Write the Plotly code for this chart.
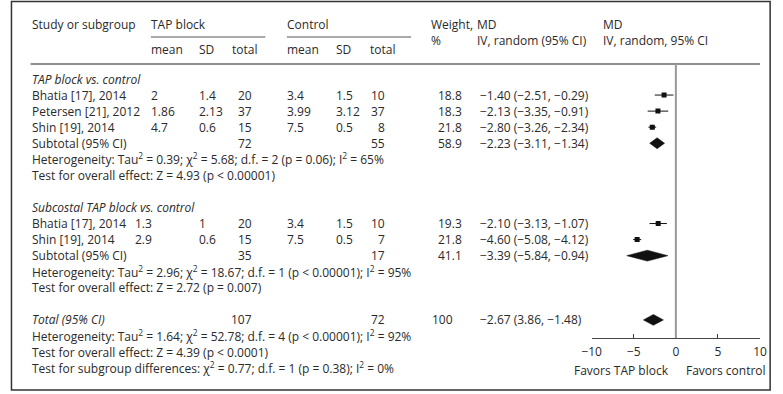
import plotly.graph_objects as go

W, H = 783, 394

# ---------------- data ----------------
studies = ["Bhatia [17], 2014", "Petersen [21], 2012", "Shin [19], 2014",
           "Bhatia [17], 2014", "Shin [19], 2014"]
study_rows = [1, 2, 3, 9, 10]
tap_mean = [2, 1.86, 4.7, 1.3, 2.9]
tap_sd = [1.4, 2.13, 0.6, 1, 0.6]
tap_n = [20, 37, 15, 20, 15]
ctl_mean = [3.4, 3.99, 7.5, 3.4, 7.5]
ctl_sd = [1.5, 3.12, 0.5, 1.5, 0.5]
ctl_n = [10, 37, 8, 10, 7]
weight = [18.8, 18.3, 21.8, 19.3, 21.8]
md = [-1.40, -2.13, -2.80, -2.10, -4.60]
md_lo = [-2.51, -3.35, -3.26, -3.13, -5.08]
md_hi = [-0.29, -0.91, -2.34, -1.07, -4.12]

groups = ["TAP block vs. control", "Subcostal TAP block vs. control"]
group_rows = [0, 8]
sub_rows = [4, 11]
sub_tap_n = [72, 35]
sub_ctl_n = [55, 17]
sub_weight = [58.9, 41.1]
sub_md = [-2.23, -3.39]
sub_lo = [-3.11, -5.84]
sub_hi = [-1.34, -0.94]
het_text = ["Heterogeneity: Tau<sup>2</sup> = 0.39; χ<sup>2</sup> = 5.68; d.f. = 2 (p = 0.06); I<sup>2</sup> = 65%",
            "Heterogeneity: Tau<sup>2</sup> = 2.96; χ<sup>2</sup> = 18.67; d.f. = 1 (p < 0.00001); I<sup>2</sup> = 95%"]
eff_text = ["Test for overall effect: Z = 4.93 (p < 0.00001)",
            "Test for overall effect: Z = 2.72 (p = 0.007)"]

total_row = 15
total_tap_n = 107
total_ctl_n = 72
total_weight = 100
total_md = -2.67
total_lo = -3.86
total_hi = -1.48
total_ci_label = "−2.67 (3.86, −1.48)"
total_notes = ["Heterogeneity: Tau<sup>2</sup> = 1.64; χ<sup>2</sup> = 52.78; d.f. = 4 (p < 0.00001); I<sup>2</sup> = 92%",
               "Test for overall effect: Z = 4.39 (p < 0.0001)",
               "Test for subgroup differences: χ<sup>2</sup> = 0.77; d.f. = 1 (p = 0.38); I<sup>2</sup> = 0%"]

tick_vals = [-10, -5, 0, 5, 10]
favors = ["Favors TAP block", "Favors control"]

# ---------------- layout helpers ----------------
ROW0, DY = 79.0, 16.06
def row_of(py):
    return (py - ROW0) / DY
def px(x):
    return x / W

FONT = "Open Sans"
FS = 12
TXT = "#2a2a2a"

def fmt(v):
    s = f"{v:.2f}".rstrip("0").rstrip(".") if isinstance(v, float) else str(v)
    return s.replace("-", "−")

def ci(m, l, h):
    return f"{m:.2f} ({l:.2f}, {h:.2f})".replace("-", "−")

ann = []
def text(x, row, s, anchor="left"):
    ann.append(dict(x=px(x - 2 if anchor == "left" else x + 2), y=row, xref="paper", yref="y",
                    text=s, showarrow=False, xanchor=anchor, yanchor="middle",
                    font=dict(family=FONT, size=FS, color=TXT)))

# header
hr1, hr2, hr3 = row_of(24), row_of(40), row_of(49)
text(22, hr1, "Study or subgroup")
text(144, hr1, "TAP block")
text(283, hr1, "Control")
for x, s in [(144, "mean"), (193, "SD"), (227, "total"), (283, "mean"), (333, "SD"), (368, "total")]:
    text(x, hr3, s)
text(430, hr1, "Weight,")
text(430, hr2, "%")
text(477, hr1, "MD")
text(477, hr2, "IV, random (95% CI)")
text(606, hr1, "MD")
text(606, hr2, "IV, random, 95% CI")

# groups
for g, r in zip(groups, group_rows):
    text(22, r, f"<i>{g}</i>")
for i, r in enumerate(study_rows):
    tap_x = 144 if r < 8 else 128
    text(22, r, studies[i])
    text(tap_x, r, fmt(tap_mean[i]))
    text(193, r, fmt(tap_sd[i]))
    text(247, r, str(tap_n[i]), "right")
    text(283, r, fmt(ctl_mean[i]))
    text(333, r, fmt(ctl_sd[i]))
    text(383, r, str(ctl_n[i]), "right")
    text(437, r, f"{weight[i]:.1f}")
    text(480, r, ci(md[i], md_lo[i], md_hi[i]))
for k, r in enumerate(sub_rows):
    text(22, r, "Subtotal (95% CI)")
    text(247, r, str(sub_tap_n[k]), "right")
    text(383, r, str(sub_ctl_n[k]), "right")
    text(437, r, f"{sub_weight[k]:.1f}")
    text(480, r, ci(sub_md[k], sub_lo[k], sub_hi[k]))
    text(22, r + 1, het_text[k])
    text(22, r + 2, eff_text[k])
text(22, total_row, "<i>Total (95% CI)</i>")
text(247, total_row, str(total_tap_n), "right")
text(383, total_row, str(total_ctl_n), "right")
text(431, total_row, str(total_weight))
text(480, total_row, total_ci_label)
for j, s in enumerate(total_notes):
    text(22, total_row + 1 + j, s)

fav_row = row_of(370)
ann.append(dict(x=px(676), y=fav_row, xref="paper", yref="y", text=favors[0], showarrow=False,
                xanchor="right", yanchor="middle", font=dict(family=FONT, size=FS, color=TXT)))
ann.append(dict(x=px(689), y=fav_row, xref="paper", yref="y", text=favors[1], showarrow=False,
                xanchor="left", yanchor="middle", font=dict(family=FONT, size=FS, color=TXT)))

fig = go.Figure()

# CI lines
lx, ly = [], []
for i, r in enumerate(study_rows):
    lx += [md_lo[i], md_hi[i], None]
    ly += [r, r, None]
fig.add_trace(go.Scatter(x=lx, y=ly, mode="lines", line=dict(color="#111", width=1),
                         hoverinfo="skip", showlegend=False))
fig.add_trace(go.Scatter(x=md, y=study_rows, mode="markers",
                         marker=dict(symbol="square", size=5, color="#111"), showlegend=False))

# diamonds
dh = 0.34
for m, l, h, r in list(zip(sub_md, sub_lo, sub_hi, sub_rows)) + [(total_md, total_lo, total_hi, total_row)]:
    fig.add_trace(go.Scatter(x=[l, m, h, m, l], y=[r, r - dh, r, r + dh, r], mode="lines",
                             fill="toself", fillcolor="#111", line=dict(color="#111", width=0.5),
                             hoverinfo="skip", showlegend=False))

x0, x1 = 594.6, 766.7
fig.update_layout(
    width=W, height=H, autosize=False,
    margin=dict(l=0, r=0, t=0, b=0),
    paper_bgcolor="white", plot_bgcolor="white",
    annotations=ann,
    xaxis=dict(domain=[px(x0), px(x1)], range=[-10, 10], anchor="free", position=(H - 338) / H,
               tickvals=tick_vals, ticks="inside", ticklen=4, tickcolor="#444",
               ticklabelstandoff=3,
               showline=True, linecolor="#444", linewidth=1, showgrid=False, zeroline=False,
               tickfont=dict(family=FONT, size=FS, color=TXT)),
    yaxis=dict(domain=[0, 1], range=[row_of(H), row_of(0)], visible=False, showgrid=False,
               zeroline=False),
    shapes=[
        dict(type="rect", xref="paper", yref="paper", x0=px(1.5), x1=px(777), y0=1 - 390 / H, y1=1 - 1.5 / H,
             line=dict(color="#333", width=1.5)),
        dict(type="line", xref="paper", yref="y", x0=px(21), x1=px(766.7), y0=row_of(64), y1=row_of(64),
             line=dict(color="#222", width=1.2)),
        dict(type="line", xref="paper", yref="y", x0=px(144), x1=px(261), y0=row_of(37), y1=row_of(37),
             line=dict(color="#555", width=1)),
        dict(type="line", xref="paper", yref="y", x0=px(283), x1=px(410), y0=row_of(37), y1=row_of(37),
             line=dict(color="#555", width=1)),
        dict(type="line", xref="x", yref="y", x0=0, x1=0, y0=row_of(64), y1=row_of(338),
             line=dict(color="#999", width=2)),
    ],
)

fig.write_html("out.html", config={"displayModeBar": False, "staticPlot": True},
               post_script="document.body.style.margin='0';document.body.style.overflow='hidden';")
